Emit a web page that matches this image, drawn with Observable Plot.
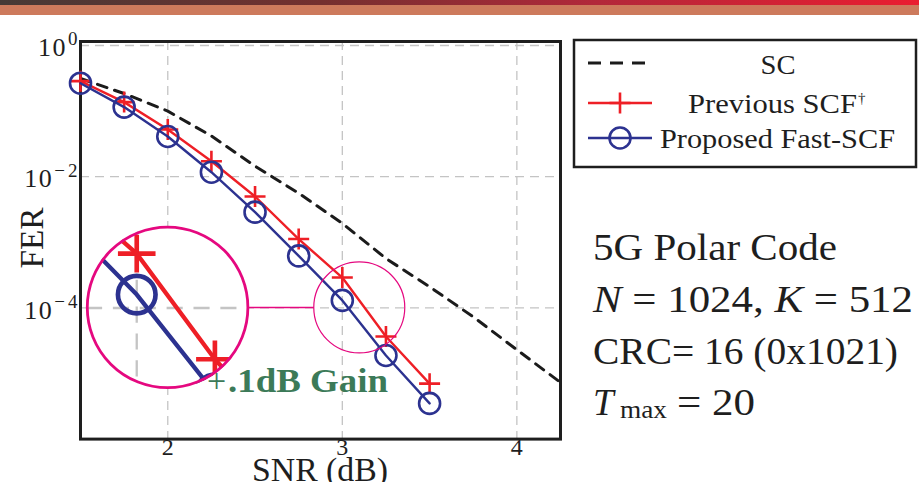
<!DOCTYPE html>
<html><head><meta charset="utf-8">
<script src="https://cdn.jsdelivr.net/npm/d3@7"></script>
<script src="https://cdn.jsdelivr.net/npm/@observablehq/plot@0.6"></script>
<style>
html,body{margin:0;padding:0;background:#fff;}
#wrap{position:relative;width:919px;height:482px;overflow:hidden;background:#fff;}
#wrap svg{position:absolute;left:0;top:0;}
</style></head><body><div id="wrap"></div>
<script>
// ---- data ----
const snr = [1.5, 1.75, 2, 2.25, 2.5, 2.75, 3, 3.25, 3.5];
const snrSC = [1.5, 1.75, 2, 2.25, 2.5, 2.75, 3, 3.25, 3.5, 3.75, 4, 4.25];
const ferSC = [0.314, 0.185, 0.100, 0.0417, 0.0145, 5.6e-3, 1.94e-3, 5.66e-4, 2.1e-4, 7.3e-5, 2.3e-5, 7.3e-6];
const ferPrev = [0.286, 0.137, 0.0525, 0.0172, 4.99e-3, 1.12e-3, 2.9e-4, 3.66e-5, 7.0e-6];
const ferFast = [0.266, 0.115, 0.041, 0.0117, 2.88e-3, 6.2e-4, 1.30e-4, 1.88e-5, 3.5e-6];
const xTicks = [2, 3, 4];
const yTicks = [1, 1e-2, 1e-4];
const seriesNames = ["SC", "Previous SCF", "Proposed Fast-SCF"];
const xLabel = "SNR (dB)";
const yLabel = "FER";
const gainText = ".1dB Gain";
const infoTitle = "5G Polar Code";
const codeN = 1024, codeK = 512, crcLen = 16, crcPoly = "0x1021", tMax = 20;
const zoomSNR = 3.1, zoomFER = 1e-4;   // centre of the magnified region

const C = {sc: "#1b1b1b", prev: "#ee1f26", fast: "#2c3290", grid: "#c4c4c4", mag: "#e5087f", green: "#3c7a58", ink: "#1e1e1e"};
const FONT = "Liberation Serif, serif";

const scRows = snrSC.map((x, i) => ({x, y: ferSC[i]}));
const prevRows = snr.map((x, i) => ({x, y: ferPrev[i]}));
const fastRows = snr.map((x, i) => ({x, y: ferFast[i]}));

const plusSymbol = {draw(ctx, size) { const r = Math.sqrt(size / Math.PI); ctx.moveTo(-r, 0); ctx.lineTo(r, 0); ctx.moveTo(0, -r); ctx.lineTo(0, r); }};

function gridMarks(k, clip) {
  return [
    Plot.ruleX(xTicks, {stroke: C.grid, strokeWidth: 1.3 * k, strokeDasharray: `${9 * k},${6 * k}`, clip}),
    Plot.ruleY(yTicks, {stroke: C.grid, strokeWidth: 1.3 * k, strokeDasharray: `${9 * k},${6 * k}`, clip}),
  ];
}
function seriesMarks(k, clip) {
  return [
    Plot.line(scRows, {x: "x", y: "y", stroke: C.sc, strokeWidth: 3 * k, strokeDasharray: `${10 * k},${8 * k}`, clip}),
    Plot.line(prevRows, {x: "x", y: "y", stroke: C.prev, strokeWidth: 2.4 * k, clip}),
    Plot.dot(prevRows, {x: "x", y: "y", symbol: plusSymbol, r: 10.5 * k, stroke: C.prev, strokeWidth: 2.6 * k, fill: "none", clip}),
    Plot.line(fastRows, {x: "x", y: "y", stroke: C.fast, strokeWidth: 2.4 * k, clip}),
    Plot.dot(fastRows, {x: "x", y: "y", r: 10.5 * k, stroke: C.fast, strokeWidth: 2.6 * k, fill: "none", clip}),
  ];
}

const W = 919, H = 482;
const plot = Plot.plot({
  width: W, height: H,
  marginLeft: 80, marginRight: 359, marginTop: 41, marginBottom: 43.4,
  x: {domain: [1.5, 4.25]},
  y: {type: "log", domain: [1e-6, 1.15]},
  style: {background: "transparent", fontFamily: FONT, color: C.ink},
  marks: [
    ...gridMarks(1, false),
    Plot.frame({stroke: C.ink, strokeWidth: 3}),
    ...seriesMarks(1, false),
    Plot.axisX({ticks: xTicks, tickSize: 0, tickPadding: -1, fontSize: 24, tickFormat: d => String(d), label: null}),
    Plot.axisY({ticks: yTicks, tickSize: 0, tickPadding: 0, fontSize: 26, dy: 2.4, tickFormat: d => "10^" + Math.round(Math.log10(d)), label: null})
  ]
});
// superscript exponents on the y tick labels
d3.select(plot).selectAll('g[aria-label="y-axis tick label"] text').each(function () {
  const t = d3.select(this);
  const e = t.text().split("^")[1];
  t.text(null);
  t.append("tspan").attr("letter-spacing", 1.5).text("10");
  t.append("tspan").attr("dy", -10.8).attr("dx", 1).attr("font-size", 19).attr("letter-spacing", 3).text(e.replace("-", "\u2212"));
});
const wrap = document.getElementById("wrap");
wrap.appendChild(plot);

const xs = plot.scale("x"), ys = plot.scale("y");
const kx = xs.apply(4) - xs.apply(3);
const ky = ys.apply(1e-5) - ys.apply(1e-4);
const sx = xs.apply(zoomSNR), sy = ys.apply(zoomFER), sr = 45.5;
const bx = xs.apply(2) + 0.3, by = sy, BR = 81.5;
const m = BR / sr;

// ---- magnified inset ----
const half = sr / kx, halfDec = sr / ky;
const inset = Plot.plot({
  width: 2 * BR, height: 2 * BR, margin: 0,
  x: {domain: [zoomSNR - half, zoomSNR + half], axis: null},
  y: {type: "log", domain: [zoomFER / 10 ** halfDec, zoomFER * 10 ** halfDec], axis: null},
  style: {background: "white"},
  marks: [...gridMarks(m, true), ...seriesMarks(m, true)]
});
inset.style.left = (bx - BR) + "px";
inset.style.top = (by - BR) + "px";
inset.style.clipPath = "circle(50%)";
wrap.appendChild(inset);

// ---- overlay: header, annotations, legend, text ----
const svg = d3.create("svg").attr("width", W).attr("height", H).style("font-family", FONT).style("pointer-events", "none");
const defs = svg.append("defs");
const g1 = defs.append("linearGradient").attr("id", "hdr");
[[0, "#463a36"], [0.35, "#74302f"], [0.65, "#b2283a"], [1, "#ea1d30"]].forEach(([o, c]) => g1.append("stop").attr("offset", o).attr("stop-color", c));
svg.append("rect").attr("x", 0).attr("y", 0).attr("width", W).attr("height", 5).attr("fill", "url(#hdr)");
svg.append("rect").attr("x", 0).attr("y", 5).attr("width", W).attr("height", 10).attr("fill", "#cd7a5c");

// magnifier
svg.append("circle").attr("cx", sx).attr("cy", sy).attr("r", sr).attr("fill", "none").attr("stroke", C.mag).attr("stroke-width", 1.2);
svg.append("line").attr("x1", bx + BR).attr("x2", sx - sr).attr("y1", sy).attr("y2", sy).attr("stroke", C.mag).attr("stroke-width", 1.5);
svg.append("circle").attr("cx", bx).attr("cy", by).attr("r", BR - 1.2).attr("fill", "none").attr("stroke", C.mag).attr("stroke-width", 2.8);

// gain label
svg.append("text").attr("x", 207).attr("y", 392).attr("font-size", 34).attr("fill", C.green).text("+");
svg.append("text").attr("x", 228).attr("y", 392).attr("font-size", 33).attr("font-weight", "bold").attr("fill", C.green)
  .attr("textLength", 160).attr("lengthAdjust", "spacingAndGlyphs").text(gainText);

// axis titles
svg.append("text").attr("x", (xs.apply(1.5) + xs.apply(4.25)) / 2).attr("y", 481).attr("text-anchor", "middle")
  .attr("font-size", 33).attr("fill", C.ink).attr("textLength", 136).attr("lengthAdjust", "spacingAndGlyphs").text(xLabel);
svg.append("text").attr("transform", `translate(43,238) rotate(-90)`).attr("text-anchor", "middle")
  .attr("font-size", 34).attr("fill", C.ink).attr("textLength", 61).attr("lengthAdjust", "spacingAndGlyphs").text(yLabel);

// legend
svg.append("rect").attr("x", 574).attr("y", 40).attr("width", 342).attr("height", 127).attr("fill", "white").attr("stroke", C.ink).attr("stroke-width", 2.5);
svg.append("line").attr("x1", 588).attr("x2", 646).attr("y1", 63).attr("y2", 63).attr("stroke", C.sc).attr("stroke-width", 3).attr("stroke-dasharray", "13,9");
svg.append("line").attr("x1", 588).attr("x2", 652).attr("y1", 103).attr("y2", 103).attr("stroke", C.prev).attr("stroke-width", 2.4);
svg.append("path").attr("d", "M609.5,103H630.5M620,92.5V113.5").attr("stroke", C.prev).attr("stroke-width", 2.6);
svg.append("line").attr("x1", 588).attr("x2", 652).attr("y1", 138).attr("y2", 138).attr("stroke", C.fast).attr("stroke-width", 2.4);
svg.append("circle").attr("cx", 620).attr("cy", 138).attr("r", 10.5).attr("fill", "none").attr("stroke", C.fast).attr("stroke-width", 2.6);
const lg = {"font-size": 28, fill: C.ink};
const t1 = svg.append("text").attr("x", 778).attr("y", 74).attr("text-anchor", "middle").attr("textLength", 35).attr("lengthAdjust", "spacingAndGlyphs").text(seriesNames[0]);
const t2 = svg.append("text").attr("x", 688).attr("y", 113).attr("textLength", 169).attr("lengthAdjust", "spacingAndGlyphs").text(seriesNames[1]);
svg.append("text").attr("x", 858).attr("y", 103).attr("font-size", 15).attr("fill", C.ink).text("\u2020");
const t3 = svg.append("text").attr("x", 660).attr("y", 148).attr("textLength", 235).attr("lengthAdjust", "spacingAndGlyphs").text(seriesNames[2]);
[t1, t2, t3].forEach(t => Object.entries(lg).forEach(([k, v]) => t.attr(k, v)));

// info block
const info = svg.append("g").attr("fill", C.ink).attr("font-size", 37);
info.append("text").attr("x", 593).attr("y", 260).attr("textLength", 244).attr("lengthAdjust", "spacingAndGlyphs").text(infoTitle);
const l2 = info.append("text").attr("x", 593).attr("y", 312).attr("textLength", 320).attr("lengthAdjust", "spacingAndGlyphs");
l2.append("tspan").attr("font-style", "italic").text("N");
l2.append("tspan").text(` = ${codeN}, `);
l2.append("tspan").attr("font-style", "italic").text("K");
l2.append("tspan").text(` = ${codeK}`);
info.append("text").attr("x", 593).attr("y", 364).attr("textLength", 305).attr("lengthAdjust", "spacingAndGlyphs").text(`CRC= ${crcLen} (${crcPoly})`);
info.append("text").attr("x", 593).attr("y", 415).attr("font-style", "italic").text("T");
info.append("text").attr("x", 620).attr("y", 418).attr("font-size", 25).attr("textLength", 47).attr("lengthAdjust", "spacingAndGlyphs").text("max");
info.append("text").attr("x", 677).attr("y", 415).attr("textLength", 78).attr("lengthAdjust", "spacingAndGlyphs").text(`= ${tMax}`);

wrap.appendChild(svg.node());
</script></body></html>
